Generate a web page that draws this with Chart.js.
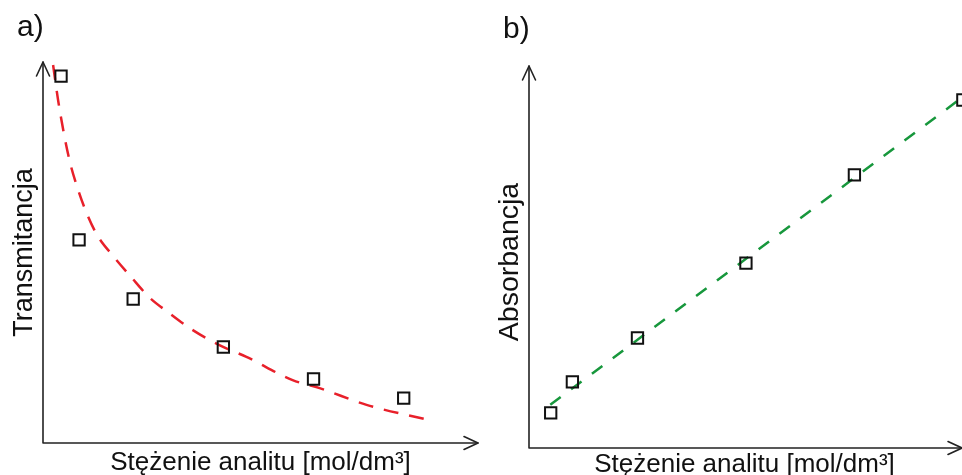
<!DOCTYPE html>
<html>
<head>
<meta charset="utf-8">
<script src="https://cdn.jsdelivr.net/npm/chart.js@4"></script>
<style>
html,body{margin:0;padding:0;background:#fff;overflow:hidden;width:962px;height:475px;}
.box{position:absolute;top:0;height:475px;}
#ba{left:0;width:490px;}
#bb{left:490px;width:472px;}
</style>
</head>
<body>
<div class="box" id="ba"><canvas id="ca" width="490" height="475"></canvas></div>
<div class="box" id="bb"><canvas id="cb" width="472" height="475"></canvas></div>
<script>
// ---- data ----
const panelA = "a)";
const panelB = "b)";
const xTitle = "Stężenie analitu [mol/dm³]";
const yTitleA = "Transmitancja";
const yTitleB = "Absorbancja";

const concA = [0.5, 1, 2.5, 5, 7.5, 10];
const transA = [9.63, 5.33, 3.78, 2.52, 1.68, 1.18];
const fitAx = [0.28, 0.44, 0.72, 0.92, 1.19, 1.50, 1.97, 2.44, 2.94, 3.50, 4.14, 4.89, 5.64, 6.92, 7.67, 8.97, 10.72];
const fitAy = [9.92, 8.87, 7.48, 6.80, 6.08, 5.46, 4.88, 4.36, 3.83, 3.41, 2.97, 2.57, 2.26, 1.65, 1.44, 1.00, 0.60];

const concB = [0.5, 1, 2.5, 5, 7.5, 10];
const absB = [0.92, 1.73, 2.88, 4.84, 7.15, 9.11];
const fitBx = [0.49, 10.0];
const fitBy = [1.13, 9.19];

const FONT = "'Liberation Sans', Arial, sans-serif";
const AXIS = "#222";

function pts(xs, ys){ return xs.map((x,i)=>({x:x, y:ys[i]})); }

function axesPlugin(panel, yTitle, opts){
  return {
    id: 'axes' + panel,
    afterDraw(chart){
      const ctx = chart.ctx, a = chart.chartArea;
      ctx.save();
      ctx.strokeStyle = AXIS; ctx.lineWidth = 1.6; ctx.lineCap = 'round'; ctx.lineJoin='round';
      ctx.beginPath();
      ctx.moveTo(a.left, a.top); ctx.lineTo(a.left, a.bottom); ctx.lineTo(a.right, a.bottom);
      ctx.stroke();
      // arrow heads
      ctx.beginPath();
      ctx.moveTo(a.left - 6.5, a.top + 14); ctx.lineTo(a.left, a.top); ctx.lineTo(a.left + 6.5, a.top + 14);
      ctx.moveTo(a.right - 14, a.bottom - 6.5); ctx.lineTo(a.right, a.bottom); ctx.lineTo(a.right - 14, a.bottom + 6.5);
      ctx.stroke();
      // texts
      ctx.fillStyle = '#111';
      ctx.font = "26px " + FONT;
      ctx.textAlign = 'center'; ctx.textBaseline = 'alphabetic';
      ctx.fillText(xTitle, (a.left + a.right)/2 + opts.xOff, a.bottom + opts.xBase);
      ctx.save();
      ctx.font = opts.ySize + "px " + FONT;
      ctx.translate(a.left - opts.yBase, (a.top + a.bottom)/2 + opts.yOff);
      ctx.rotate(-Math.PI/2);
      ctx.fillText(yTitle, 0, 0);
      ctx.restore();
      ctx.font = "30px " + FONT;
      ctx.textAlign = 'left';
      ctx.fillText(panel, opts.px, opts.py);
      ctx.restore();
    }
  };
}

function makeChart(id, xs, ys, fx, fy, color, dash, tension, xmax, padding, panel, yTitle, opts){
  return new Chart(document.getElementById(id), {
    type: 'scatter',
    data: {
      datasets: [
        {
          data: pts(xs, ys),
          pointStyle: 'rect',
          pointRadius: 8,
          pointBorderWidth: 2,
          pointBorderColor: '#111',
          pointBackgroundColor: 'rgba(0,0,0,0)',
          showLine: false,
          clip: false,
          order: 0
        },
        {
          data: pts(fx, fy),
          showLine: true,
          borderColor: color,
          borderWidth: 2.5,
          borderDash: dash,
          pointRadius: 0,
          tension: tension,
          cubicInterpolationMode: tension ? 'monotone' : 'default',
          clip: false,
          order: 1
        }
      ]
    },
    options: {
      responsive: false,
      animation: false,
      events: [],
      layout: { padding: padding, autoPadding: false },
      plugins: { legend: {display:false}, tooltip: {enabled:false}, title: {display:false} },
      scales: {
        x: { type: 'linear', min: 0, max: xmax, display: false },
        y: { type: 'linear', min: 0, max: 10, display: false }
      }
    },
    plugins: [axesPlugin(panel, yTitle, opts)]
  });
}

makeChart('ca', concA, transA, fitAx, fitAy, '#e8202a', [15, 11], 0.4, 12.06,
  {left: 43, right: 12, top: 62, bottom: 32}, panelA, yTitleA,
  {xOff: 0, xBase: 27, yBase: 11, yOff: 0, ySize: 27, px: 17, py: 36});

makeChart('cb', concB, absB, fitBx, fitBy, '#17973c', [13, 13], 0, 9.98,
  {left: 39, right: 0, top: 66, bottom: 27}, panelB, yTitleB,
  {xOff: -1, xBase: 24, yBase: 11, yOff: 5, ySize: 28.5, px: 13, py: 38});
</script>
</body>
</html>
